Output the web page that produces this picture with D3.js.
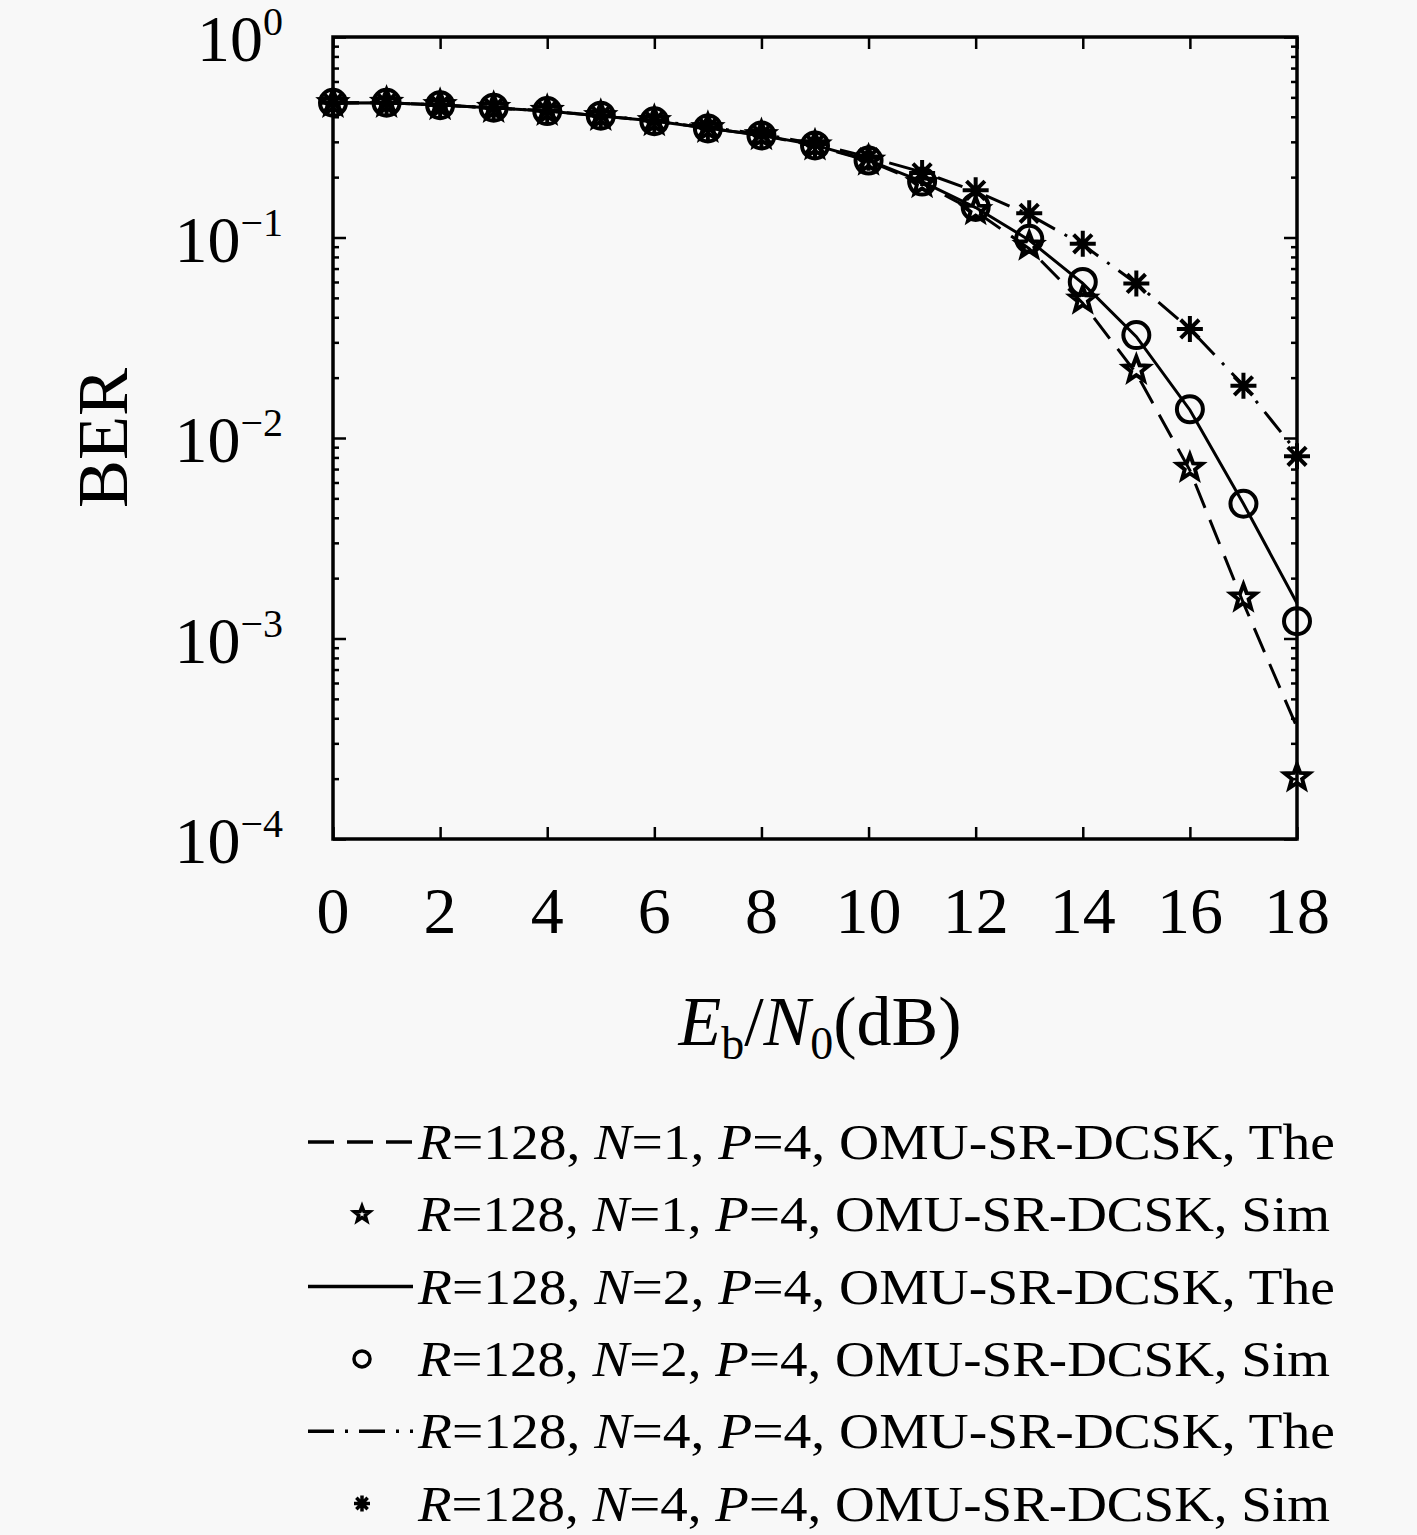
<!DOCTYPE html>
<html>
<head>
<meta charset="utf-8">
<script src="https://cdn.jsdelivr.net/npm/d3@7"></script>
<style>
  body { margin: 0; background: #f8f8f8; }
  svg { display: block; }
  text { font-family: "Liberation Serif", "DejaVu Serif", serif; fill: #000; }
</style>
</head>
<body>
<div id="chart"></div>
<script>
// Eb/N0 in dB
var snrDb = [0, 1, 2, 3, 4, 5, 6, 7, 8, 9, 10, 11, 12, 13, 14, 15, 16, 17, 18];

// BER curves, theory and simulation
var berTheN1 = [0.469, 0.47, 0.458, 0.443, 0.428, 0.404, 0.381, 0.351, 0.323, 0.287, 0.241, 0.186, 0.135, 0.088, 0.047, 0.021, 0.0069, 0.0015, 0.00036];
var berSimN1 = [0.469, 0.47, 0.458, 0.443, 0.428, 0.404, 0.381, 0.352, 0.324, 0.288, 0.242, 0.187, 0.137, 0.091, 0.049, 0.0219, 0.0071, 0.0016, 0.000203];
var berTheN2 = [0.469, 0.47, 0.458, 0.443, 0.428, 0.404, 0.381, 0.351, 0.324, 0.289, 0.243, 0.19, 0.141, 0.097, 0.059, 0.032, 0.0138, 0.0047, 0.0015];
var berSimN2 = [0.47, 0.47, 0.457, 0.444, 0.427, 0.405, 0.38, 0.35, 0.323, 0.288, 0.242, 0.19, 0.142, 0.0985, 0.06, 0.0326, 0.0139, 0.0047, 0.00122];
var berTheN4 = [0.469, 0.47, 0.458, 0.443, 0.428, 0.405, 0.383, 0.355, 0.328, 0.294, 0.252, 0.212, 0.17, 0.13, 0.092, 0.059, 0.035, 0.0183, 0.0085];
var berSimN4 = [0.47, 0.47, 0.458, 0.444, 0.429, 0.406, 0.383, 0.355, 0.328, 0.293, 0.25, 0.21, 0.172, 0.132, 0.093, 0.059, 0.035, 0.0182, 0.0081];

var xTicks = [0, 2, 4, 6, 8, 10, 12, 14, 16, 18];
var yTickExp = [0, -1, -2, -3, -4];

var legendLabels = [
	{ n: "1", tail: "The" },
	{ n: "1", tail: "Sim" },
	{ n: "2", tail: "The" },
	{ n: "2", tail: "Sim" },
	{ n: "4", tail: "The" },
	{ n: "4", tail: "Sim" }
];

var W = 1417, H = 1535;
var LEFT = 333, RIGHT = 1297, TOP = 37, BOTTOM = 839;

var svg = d3.select("#chart").append("svg")
	.attr("width", W)
	.attr("height", H);

svg.append("rect").attr("width", W).attr("height", H).attr("fill", "#f8f8f8");

var x = d3.scaleLinear().domain([0, 18]).range([LEFT, RIGHT]);
var y = d3.scaleLog().domain([1e-4, 1]).range([BOTTOM, TOP]);

// ticks (inward, all four sides)
var minorVals = [];
for (var e = -4; e < 0; e++) {
	for (var m = 2; m <= 9; m++) minorVals.push(m * Math.pow(10, e));
}
var majorVals = yTickExp.map(function(p) { return Math.pow(10, p); });

function tickAxis(axis, vals, size)
{
	return axis.tickValues(vals).tickSize(size).tickFormat("");
}

var axisG = svg.append("g").attr("class", "axes");
axisG.append("g").attr("transform", "translate(" + LEFT + ",0)")
	.call(tickAxis(d3.axisLeft(y), majorVals, -13));
axisG.append("g").attr("transform", "translate(" + LEFT + ",0)")
	.call(tickAxis(d3.axisLeft(y), minorVals, -6));
axisG.append("g").attr("transform", "translate(" + RIGHT + ",0)")
	.call(tickAxis(d3.axisRight(y), majorVals, -13));
axisG.append("g").attr("transform", "translate(" + RIGHT + ",0)")
	.call(tickAxis(d3.axisRight(y), minorVals, -6));
axisG.append("g").attr("transform", "translate(0," + BOTTOM + ")")
	.call(tickAxis(d3.axisBottom(x), xTicks, -12));
axisG.append("g").attr("transform", "translate(0," + TOP + ")")
	.call(tickAxis(d3.axisTop(x), xTicks, -12));
axisG.selectAll(".domain").remove();
axisG.selectAll("line").attr("stroke", "#000").attr("stroke-width", 2.5);

// frame
svg.append("rect")
	.attr("x", LEFT).attr("y", TOP)
	.attr("width", RIGHT - LEFT).attr("height", BOTTOM - TOP)
	.attr("fill", "none")
	.attr("stroke", "#000")
	.attr("stroke-width", 3.5);

// x tick labels
svg.append("g").selectAll("text")
	.data(xTicks)
	.enter().append("text")
	.attr("x", function(d) { return x(d); })
	.attr("y", 933)
	.attr("text-anchor", "middle")
	.style("font-size", "66px")
	.text(function(d) { return d; });

// y tick labels 10^p
var yLab = svg.append("g").selectAll("text")
	.data(yTickExp)
	.enter().append("text")
	.attr("x", 283)
	.attr("y", function(d) { return y(Math.pow(10, d)) + 24; })
	.attr("text-anchor", "end")
	.style("font-size", "66px");
yLab.append("tspan").text("10");
yLab.append("tspan")
	.attr("dy", -26)
	.style("font-size", "40px")
	.text(function(d) { return d === 0 ? "0" : "\u2212" + (-d); });

// axis titles
var xTitle = svg.append("text")
	.attr("x", 820)
	.attr("y", 1045)
	.attr("text-anchor", "middle")
	.style("font-size", "70px");
xTitle.append("tspan").style("font-style", "italic").text("E");
xTitle.append("tspan").attr("dy", 14).style("font-size", "46px").text("b");
xTitle.append("tspan").attr("dy", -14).text("/");
xTitle.append("tspan").style("font-style", "italic").text("N");
xTitle.append("tspan").attr("dy", 14).style("font-size", "46px").text("0");
xTitle.append("tspan").attr("dy", -14).text("(dB)");

svg.append("text")
	.attr("transform", "translate(127,438) rotate(-90)")
	.attr("text-anchor", "middle")
	.style("font-size", "72px")
	.text("BER");

// marker shapes
function starPath(r)
{
	var pts = [];
	for (var i = 0; i < 10; i++) {
		var rr = (i % 2 === 0) ? r : r * 0.42;
		var a = -Math.PI / 2 + i * Math.PI / 5;
		pts.push([rr * Math.cos(a), rr * Math.sin(a)]);
	}
	return "M" + pts.map(function(p) { return p[0].toFixed(2) + "," + p[1].toFixed(2); }).join("L") + "Z";
}
function asteriskPath(r)
{
	var d = "";
	for (var i = 0; i < 4; i++) {
		var a = i * Math.PI / 4;
		var c = Math.cos(a) * r, s = Math.sin(a) * r;
		d += "M" + (-c).toFixed(2) + "," + (-s).toFixed(2) + "L" + c.toFixed(2) + "," + s.toFixed(2);
	}
	return d;
}
function circlePath(r)
{
	return "M" + r + ",0A" + r + "," + r + " 0 1,1 " + (-r) + ",0A" + r + "," + r + " 0 1,1 " + r + ",0Z";
}

var series = [
	{ the: berTheN1, sim: berSimN1, dash: "26,13", marker: starPath },
	{ the: berTheN2, sim: berSimN2, dash: null, marker: circlePath },
	{ the: berTheN4, sim: berSimN4, dash: "26,11,3,11", marker: asteriskPath }
];

var line = d3.line()
	.x(function(d, i) { return x(snrDb[i]); })
	.y(function(d) { return y(d); });

var plot = svg.append("g");
series.forEach(function(s) {
	plot.append("path")
		.attr("d", line(s.the))
		.attr("fill", "none")
		.attr("stroke", "#000")
		.attr("stroke-width", 3)
		.attr("stroke-dasharray", s.dash);
});
series.forEach(function(s) {
	plot.append("g").selectAll("path")
		.data(s.sim)
		.enter().append("path")
		.attr("transform", function(d, i) { return "translate(" + x(snrDb[i]) + "," + y(d) + ")"; })
		.attr("d", s.marker(13))
		.attr("fill", "none")
		.attr("stroke", "#000")
		.attr("stroke-width", 4);
});

// legend
var LEG_Y0 = 1142, LEG_DY = 72.3;
var leg = svg.append("g");
legendLabels.forEach(function(lab, i) {
	var cy = LEG_Y0 + i * LEG_DY;
	var s = series[Math.floor(i / 2)];
	if (i % 2 === 0) {
		leg.append("line")
			.attr("x1", 308).attr("x2", 413)
			.attr("y1", cy).attr("y2", cy)
			.attr("stroke", "#000")
			.attr("stroke-width", 3.5)
			.attr("stroke-dasharray", s.dash);
	} else {
		leg.append("path")
			.attr("transform", "translate(362," + cy + ")")
			.attr("d", s.marker(8))
			.attr("fill", "none")
			.attr("stroke", "#000")
			.attr("stroke-width", 3.5);
	}
	var t = leg.append("text")
		.attr("x", 418)
		.attr("y", cy + 17)
		.style("font-size", "50px");
	t.append("tspan").style("font-style", "italic").text("R");
	t.append("tspan").text("=128, ");
	t.append("tspan").style("font-style", "italic").text("N");
	t.append("tspan").text("=" + lab.n + ", ");
	t.append("tspan").style("font-style", "italic").text("P");
	t.append("tspan").text("=4, OMU-SR-DCSK, " + lab.tail);
	var target = lab.tail === "The" ? 917 : 912;
	t.attr("textLength", target).attr("lengthAdjust", "spacingAndGlyphs");
});
</script>
</body>
</html>
